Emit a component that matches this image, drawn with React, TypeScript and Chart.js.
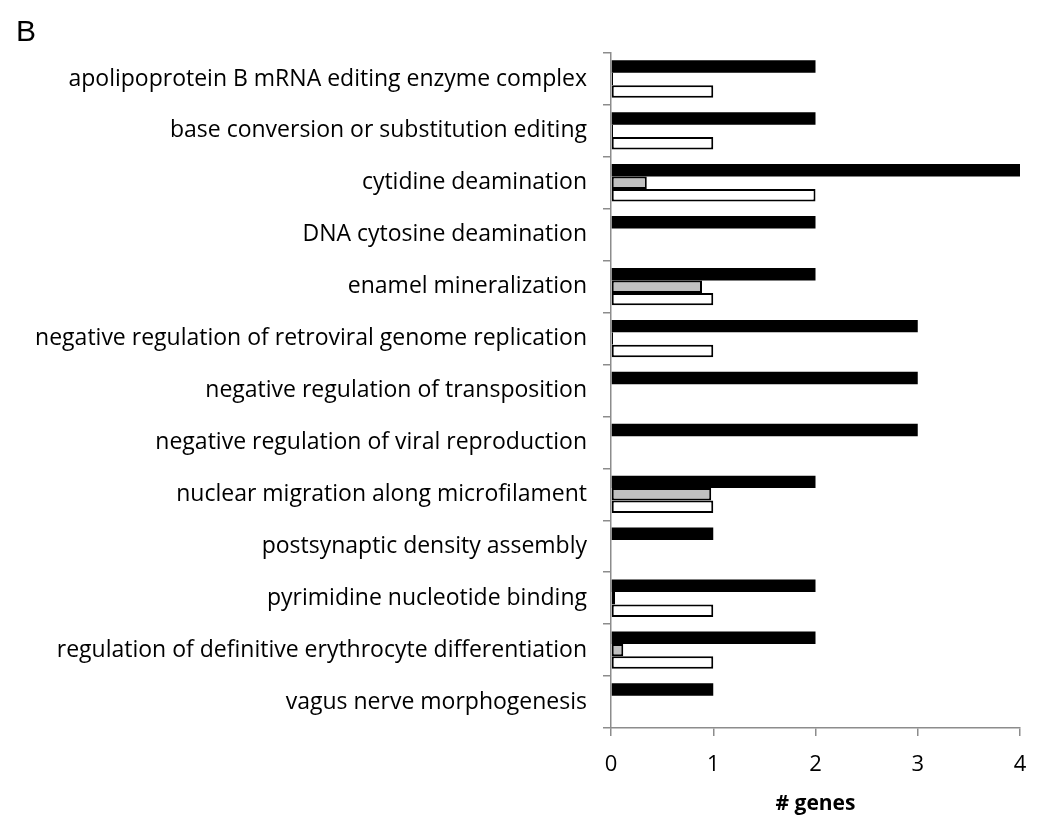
import React, { useEffect, useRef } from "react";
import { Chart, registerables } from "chart.js";

Chart.register(...registerables);

const categories = [
  "apolipoprotein B mRNA editing enzyme complex",
  "base conversion or substitution editing",
  "cytidine deamination",
  "DNA cytosine deamination",
  "enamel mineralization",
  "negative regulation of retroviral genome replication",
  "negative regulation of transposition",
  "negative regulation of viral reproduction",
  "nuclear migration along microfilament",
  "postsynaptic density assembly",
  "pyrimidine nucleotide binding",
  "regulation of definitive erythrocyte differentiation",
  "vagus nerve morphogenesis",
];

const blackSeries = [2, 2, 4, 2, 2, 3, 3, 3, 2, 1, 2, 2, 1];
const graySeries = [0.02, 0.02, 0.35, null, 0.89, 0.02, null, null, 0.98, null, 0.04, 0.12, null];
const whiteSeries = [1, 1, 2, null, 1, 1, null, null, 1, null, 1, 1, null];

const xTicks = [0, 1, 2, 3, 4];
const xTitle = "# genes";
const panelLetter = "B";

const FONT = "'Open Sans', 'Liberation Sans', sans-serif";

export default function App() {
  const canvasRef = useRef<HTMLCanvasElement | null>(null);

  useEffect(() => {
    const canvas = canvasRef.current;
    if (!canvas) return;

    const panelLabel = {
      id: "panelLabel",
      afterDraw(chart: any) {
        const ctx = chart.ctx;
        ctx.save();
        ctx.fillStyle = "#000";
        ctx.font = `30px 'Liberation Sans', Arial, sans-serif`;
        ctx.textBaseline = "alphabetic";
        ctx.textAlign = "left";
        ctx.fillText(panelLetter, 16, 41);
        ctx.restore();
      },
    };

    const chart = new Chart(canvas, {
      type: "bar",
      data: {
        labels: categories,
        datasets: [
          {
            label: "black",
            data: blackSeries,
            backgroundColor: "#000000",
            borderColor: "#000000",
            borderWidth: 0,
          },
          {
            label: "gray",
            data: graySeries as any,
            backgroundColor: "#c0c0c0",
            borderColor: "#000000",
            borderWidth: 2,
            borderSkipped: false,
          },
          {
            label: "white",
            data: whiteSeries as any,
            backgroundColor: "#ffffff",
            borderColor: "#000000",
            borderWidth: 2,
            borderSkipped: false,
          },
        ],
      },
      options: {
        indexAxis: "y",
        animation: false,
        responsive: false,
        maintainAspectRatio: false,
        layout: { padding: { top: 53, right: 17, bottom: 0, left: 0 } },
        datasets: {
          bar: { categoryPercentage: 0.72, barPercentage: 1.0 },
        },
        plugins: {
          legend: { display: false },
          tooltip: { enabled: false },
        },
        scales: {
          x: {
            type: "linear",
            min: 0,
            max: 4,
            afterBuildTicks(scale: any) {
              scale.ticks = xTicks.map((v) => ({ value: v }));
            },
            afterFit(scale: any) {
              scale.height = 89;
              scale.paddingLeft = 0;
              scale.paddingRight = 0;
            },
            border: { display: true, color: "#8c8c8c", width: 1.5 },
            grid: {
              drawOnChartArea: false,
              drawTicks: true,
              tickLength: 8,
              color: "#8c8c8c",
              lineWidth: 1.5,
            },
            ticks: {
              color: "#000",
              font: { family: FONT, size: 22 },
              padding: 16,
            },
            title: {
              display: true,
              text: xTitle,
              color: "#000",
              font: { family: FONT, size: 21, weight: "bold" },
              padding: { top: 6, bottom: 0 },
            },
          },
          y: {
            type: "category",
            offset: true,
            afterFit(scale: any) {
              scale.width = 611;
            },
            border: { display: true, color: "#8c8c8c", width: 1.5 },
            grid: {
              offset: true,
              drawOnChartArea: false,
              drawTicks: true,
              tickLength: 8,
              color: "#8c8c8c",
              lineWidth: 1.5,
            },
            ticks: {
              color: "#000",
              font: { family: FONT, size: 23 },
              padding: 16,
              autoSkip: false,
            },
          },
        },
      },
      plugins: [panelLabel],
    });

    return () => chart.destroy();
  }, []);

  return (
    <div style={{ position: "fixed", left: 0, top: 0, width: 1037, height: 817, background: "#fff" }}>
      <canvas ref={canvasRef} width={1037} height={817} style={{ display: "block" }} />
    </div>
  );
}
